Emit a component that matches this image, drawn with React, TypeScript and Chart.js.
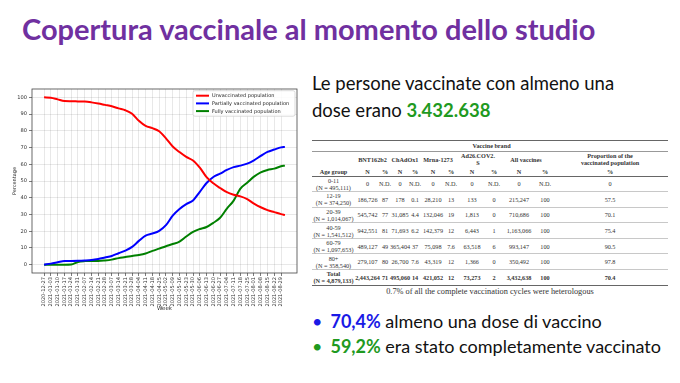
import React, { useEffect, useRef } from "react";
import { Chart, registerables } from "chart.js";

Chart.register(...registerables);

// ---------- chart data ----------
const weekLabels = [
  "2020-12-27", "2021-01-03", "2021-01-10", "2021-01-17", "2021-01-24", "2021-01-31",
  "2021-02-07", "2021-02-14", "2021-02-21", "2021-02-28", "2021-03-07", "2021-03-14",
  "2021-03-21", "2021-03-28", "2021-04-04", "2021-04-11", "2021-04-18", "2021-04-25",
  "2021-05-02", "2021-05-09", "2021-05-16", "2021-05-23", "2021-05-30", "2021-06-06",
  "2021-06-13", "2021-06-20", "2021-06-27", "2021-07-04", "2021-07-11", "2021-07-18",
  "2021-07-25", "2021-08-01", "2021-08-08", "2021-08-15", "2021-08-22", "2021-08-29",
];
const lastDataDate = "2021-09-02";

const unvaccinated = [
  100, 99.8, 98.8, 97.8, 97.7, 97.6, 97.5, 97.0, 96.3, 95.5, 94.7, 93.4, 92.3, 90.2, 86.0,
  82.9, 81.6, 79.7, 75.5, 70.6, 67.3, 64.4, 62.3, 58.0, 52.3, 48.6, 45.8, 43.3, 41.8, 40.8,
  39.2, 36.5, 34.3, 32.6, 31.4, 30.2, 29.6,
];
const partiallyVaccinated = [
  0, 0.6, 1.4, 2.2, 2.2, 2.3, 2.5, 2.8, 3.4, 4.3, 5.2, 6.8, 8.4, 10.6, 14.2, 17.4, 18.6,
  20.2, 23.6, 29.3, 33.3, 36.2, 38.4, 43.5, 48.8, 52.4, 54.4, 56.6, 58.3, 59.2, 60.4, 62.4,
  65.0, 67.4, 68.8, 70.1, 70.4,
];
const fullyVaccinated = [
  0, 0, 0, 0, 0.1, 1.6, 2.1, 2.2, 2.2, 2.5, 3.0, 3.9, 4.5, 5.2, 5.8, 6.7, 8.2, 9.6, 11.0,
  12.3, 13.8, 16.8, 19.6, 21.3, 22.5, 25.0, 28.0, 33.5, 38.3, 45.5, 49.0, 52.6, 55.2, 56.6,
  57.4, 58.8, 59.2,
];
const seriesNames = [
  "Unvaccinated population",
  "Partially vaccinated population",
  "Fully vaccinated population",
];
const seriesColors = ["#ff0000", "#0000ff", "#008000"];
const yTicks = [0, 10, 20, 30, 40, 50, 60, 70, 80, 90, 100];

// ---------- table data ----------
const vaccineBrandLines = [["BNT162b2"], ["ChAdOx1"], ["Mrna-1273"], ["Ad26.COV2.", "S"], ["All vaccines"]];
const ageGroups = ["0-11", "12-19", "20-39", "40-59", "60-79", "80+", "Total"];
const groupPopulations = [
  "(N = 495,111)", "(N = 374,250)", "(N = 1,014,067)", "(N = 1,541,512)",
  "(N = 1,097,653)", "(N = 358,540)", "(N = 4,879,133)",
];
const tableRows = [
  ["0", "N.D.", "0", "N.D.", "0", "N.D.", "0", "N.D.", "0", "N.D.", "0"],
  ["186,726", "87", "178", "0.1", "28,210", "13", "133", "0", "215,247", "100", "57.5"],
  ["545,742", "77", "31,085", "4.4", "132,046", "19", "1,813", "0", "710,686", "100", "70.1"],
  ["942,551", "81", "71,693", "6.2", "142,379", "12", "6,443", "1", "1,163,066", "100", "75.4"],
  ["489,127", "49", "365,404", "37", "75,098", "7.6", "63,518", "6", "993,147", "100", "90.5"],
  ["279,107", "80", "26,700", "7.6", "43,319", "12", "1,366", "0", "350,492", "100", "97.8"],
  ["2,443,264", "71", "495,060", "14", "421,052", "12", "73,273", "2", "3,432,638", "100", "70.4"],
];

const dayOf = (s: string) => (Date.parse(s) - Date.parse(weekLabels[0])) / 86400000;

function VaxChart() {
  const ref = useRef<HTMLCanvasElement>(null);
  useEffect(() => {
    const dates = [...weekLabels, lastDataDate];
    const xs = dates.map(dayOf);
    const mk = (vals: number[], i: number) => ({
      label: seriesNames[i],
      data: vals.map((v, k) => ({ x: xs[k], y: v })),
      borderColor: seriesColors[i],
      backgroundColor: seriesColors[i],
      borderWidth: 2,
      pointRadius: 0,
      tension: 0.3,
      cubicInterpolationMode: "monotone" as const,
    });
    const tickFont = { family: "DejaVu Sans", size: 5.1 };
    const frame = {
      id: "frame",
      afterDraw(c: any) {
        const { ctx, chartArea: a } = c;
        ctx.save();
        ctx.strokeStyle = "#444";
        ctx.lineWidth = 0.8;
        ctx.strokeRect(a.left, a.top, a.right - a.left, a.bottom - a.top);
        ctx.restore();
      },
    };
    const mplLegend = {
      id: "mplLegend",
      afterDraw(c: any) {
        const { ctx, chartArea: a } = c;
        const w = 102;
        const h = 25.5;
        const x0 = a.right - w - 2;
        const y0 = a.top + 1.7;
        ctx.save();
        ctx.beginPath();
        const r = 2;
        ctx.moveTo(x0 + r, y0);
        ctx.lineTo(x0 + w - r, y0);
        ctx.quadraticCurveTo(x0 + w, y0, x0 + w, y0 + r);
        ctx.lineTo(x0 + w, y0 + h - r);
        ctx.quadraticCurveTo(x0 + w, y0 + h, x0 + w - r, y0 + h);
        ctx.lineTo(x0 + r, y0 + h);
        ctx.quadraticCurveTo(x0, y0 + h, x0, y0 + h - r);
        ctx.lineTo(x0, y0 + r);
        ctx.quadraticCurveTo(x0, y0, x0 + r, y0);
        ctx.closePath();
        ctx.fillStyle = "rgba(255,255,255,0.85)";
        ctx.fill();
        ctx.strokeStyle = "#cccccc";
        ctx.lineWidth = 0.7;
        ctx.stroke();
        c.data.datasets.forEach((ds: any, i: number) => {
          const y = y0 + 5 + i * 7.7;
          ctx.strokeStyle = ds.borderColor;
          ctx.lineWidth = 2;
          ctx.beginPath();
          ctx.moveTo(x0 + 3, y);
          ctx.lineTo(x0 + 16, y);
          ctx.stroke();
          ctx.fillStyle = "#222";
          ctx.font = "5px 'DejaVu Sans'";
          ctx.textBaseline = "middle";
          ctx.fillText(ds.label, x0 + 19, y + 0.3);
        });
        ctx.restore();
      },
    };
    const chart = new Chart(ref.current as HTMLCanvasElement, {
      type: "line",
      data: {
        datasets: [mk(unvaccinated, 0), mk(partiallyVaccinated, 1), mk(fullyVaccinated, 2)] as any,
      },
      options: {
        animation: false,
        responsive: false,
        maintainAspectRatio: false,
        layout: { padding: { top: 9, right: 8, left: 0, bottom: 0 } },
        plugins: { legend: { display: false }, tooltip: { enabled: false } },
        scales: {
          x: {
            type: "linear",
            min: -12.5,
            max: 261.5,
            afterBuildTicks: (s: any) => {
              s.ticks = weekLabels.map((l) => ({ value: dayOf(l) }));
            },
            afterFit: (s: any) => {
              s.height = 39;
            },
            ticks: {
              autoSkip: false,
              maxRotation: 90,
              minRotation: 90,
              font: tickFont,
              color: "#333",
              padding: 1,
              callback: (v: any) => weekLabels.find((l) => dayOf(l) === v) ?? "",
            },
            grid: { color: "rgba(0,0,0,0.13)", lineWidth: 0.7, tickLength: 3, tickColor: "#444" },
            border: { display: false },
            title: {
              display: true,
              text: "Week",
              font: { family: "DejaVu Sans", size: 5.5 },
              color: "#222",
              padding: 0,
            },
          },
          y: {
            type: "linear",
            min: -5,
            max: 105,
            afterBuildTicks: (s: any) => {
              s.ticks = yTicks.map((v) => ({ value: v }));
            },
            afterFit: (s: any) => {
              s.width = 32;
            },
            ticks: { font: tickFont, color: "#333", padding: 2 },
            grid: { color: "rgba(0,0,0,0.13)", lineWidth: 0.7, tickLength: 3, tickColor: "#444" },
            border: { display: false },
            title: {
              display: true,
              text: "Percentage",
              font: { family: "DejaVu Sans", size: 5 },
              color: "#222",
              padding: 12,
            },
          },
        },
      },
      plugins: [frame, mplLegend],
    });
    return () => chart.destroy();
  }, []);
  return (
    <canvas
      ref={ref}
      width={305}
      height={232}
      style={{ position: "absolute", left: 0, top: 80, width: 305, height: 232 }}
    />
  );
}

const colWidths = [43, 25, 10, 20, 10, 26, 10, 32, 12, 38, 14, 116];

function C({ children, bold, style }: { children?: React.ReactNode; bold?: boolean; style?: any }) {
  return (
    <td style={{ padding: 0, verticalAlign: "middle", fontWeight: bold ? 700 : undefined, ...style }}>
      <div style={{ display: "flex", flexDirection: "column", alignItems: "center", whiteSpace: "nowrap" }}>
        {children}
      </div>
    </td>
  );
}

function VaxTable() {
  return (
    <div style={{ position: "absolute", left: 312, top: 140, width: 356 }}>
      <table
        style={{
          borderCollapse: "collapse",
          tableLayout: "fixed",
          width: 356,
          fontFamily: "'Liberation Serif', serif",
          fontSize: 6.2,
          lineHeight: "7px",
          color: "#333",
        }}
      >
        <colgroup>
          {colWidths.map((w, i) => (
            <col key={i} style={{ width: w }} />
          ))}
        </colgroup>
        <tbody>
          <tr style={{ height: 10.5, borderTop: "1.5px solid #666", borderBottom: "1px solid #999" }}>
            <C />
            <td colSpan={11} style={{ padding: 0 }}>
              <div style={{ textAlign: "center", fontWeight: 700, paddingRight: 40 }}>Vaccine brand</div>
            </td>
          </tr>
          <tr style={{ height: 16 }}>
            <C />
            {vaccineBrandLines.map((lines, i) => (
              <td key={i} colSpan={2} style={{ padding: 0, fontWeight: 700 }}>
                <div style={{ display: "flex", flexDirection: "column", alignItems: "center", whiteSpace: "nowrap" }}>
                  {lines.map((l, j) => (
                    <div key={j}>{l}</div>
                  ))}
                </div>
              </td>
            ))}
            <C bold>
              <div>Proportion of the</div>
              <div>vaccinated population</div>
            </C>
          </tr>
          <tr style={{ height: 9, borderBottom: "1px solid #666" }}>
            <C bold>Age group</C>
            {vaccineBrandLines.map((_, i) => (
              <React.Fragment key={i}>
                <C bold>N</C>
                <C bold>%</C>
              </React.Fragment>
            ))}
            <C bold>%</C>
          </tr>
          {tableRows.map((row, r) => {
            const isTotal = r === tableRows.length - 1;
            return (
              <tr
                key={r}
                style={{
                  height: 15.6,
                  borderBottom: isTotal ? "1.5px solid #666" : "1px solid #c8c8c8",
                  borderTop: isTotal ? "1px solid #666" : undefined,
                  fontWeight: isTotal ? 700 : 400,
                }}
              >
                <C>
                  <div>{ageGroups[r]}</div>
                  <div>{groupPopulations[r]}</div>
                </C>
                {row.map((v, k) => (
                  <C key={k}>{v}</C>
                ))}
              </tr>
            );
          })}
        </tbody>
      </table>
      <div
        style={{
          textAlign: "center",
          fontFamily: "'Liberation Serif', serif",
          fontSize: 8.3,
          lineHeight: "10px",
          color: "#333",
          marginTop: 1,
        }}
      >
        0.7% of all the complete vaccination cycles were heterologous
      </div>
    </div>
  );
}

export default function App() {
  const green = "#1f9a1f";
  const blue = "#1a1ae6";
  return (
    <div
      style={{
        position: "fixed",
        left: 0,
        top: 0,
        width: 680,
        height: 383,
        background: "#ffffff",
        overflow: "hidden",
        fontFamily: "Lato, 'Open Sans', sans-serif",
      }}
    >
      <div
        style={{
          position: "absolute",
          left: 22,
          top: 14,
          fontSize: 29,
          lineHeight: "29px",
          fontWeight: 700,
          color: "#7030a0",
          whiteSpace: "nowrap",
        }}
      >
        Copertura vaccinale al momento dello studio
      </div>
      <div
        style={{
          position: "absolute",
          left: 312,
          top: 70,
          fontSize: 18.5,
          lineHeight: "27px",
          color: "#111",
          whiteSpace: "nowrap",
        }}
      >
        <div>Le persone vaccinate con almeno una</div>
        <div>
          dose erano <span style={{ color: green, fontWeight: 700 }}>3.432.638</span>
        </div>
      </div>
      <VaxChart />
      <VaxTable />
      <div
        style={{
          position: "absolute",
          left: 312,
          top: 309,
          fontSize: 18,
          lineHeight: "25px",
          color: "#111",
          whiteSpace: "nowrap",
        }}
      >
        <div>
          <span style={{ color: blue, marginRight: 8 }}>•</span>
          <span style={{ color: blue, fontWeight: 700 }}>70,4%</span> almeno una dose di vaccino
        </div>
        <div>
          <span style={{ color: green, marginRight: 8 }}>•</span>
          <span style={{ color: green, fontWeight: 700 }}>59,2%</span> era stato completamente vaccinato
        </div>
      </div>
    </div>
  );
}
